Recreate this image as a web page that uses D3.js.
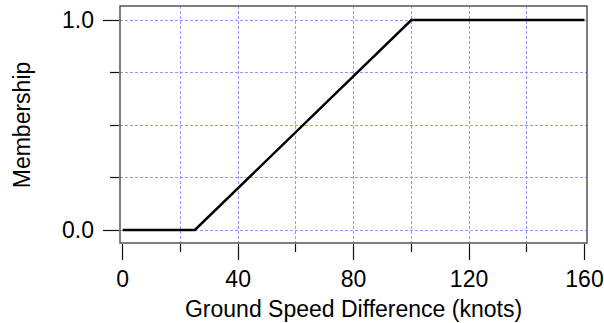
<!DOCTYPE html>
<html>
<head>
<meta charset="utf-8">
<script src="https://cdn.jsdelivr.net/npm/d3@7"></script>
<style>
  body { margin: 0; background: #fff; }
  text { font-family: "Liberation Sans", Arial, sans-serif; fill: #000; }
</style>
</head>
<body>
<div id="chart"></div>
<script>
// membership function points
var speedDiff = [0, 25, 100, 160];
var membership = [0, 0, 1, 1];

var xMajorTicks = [0, 40, 80, 120, 160];
var xMinorTicks = [20, 60, 100, 140];
var yMajorTicks = [0, 1];
var yMinorTicks = [0.25, 0.5, 0.75];
var xGrid = [20, 40, 60, 80, 100, 120, 140];
var yGrid = [0, 0.25, 0.5, 0.75, 1];

var W = 604, H = 323;
var box = {left: 120, right: 587, top: 6, bottom: 243};
var gridColor = "#9595ff";

var svg = d3.select("#chart").append("svg")
    .attr("width", W)
    .attr("height", H);

var x = d3.scaleLinear().domain([0, 160]).range([122.7, 584.5]);
var y = d3.scaleLinear().domain([0, 1]).range([230, 20]);

// snap to pixel centres so dotted lines stay crisp
function px(v) { return Math.floor(v) + 0.5; }

// grid
svg.selectAll("line.vgrid")
  .data(xGrid)
  .enter().append("line")
    .attr("class", "vgrid")
    .attr("x1", function(d) { return px(x(d)); })
    .attr("x2", function(d) { return px(x(d)); })
    .attr("y1", box.top)
    .attr("y2", box.bottom)
    .attr("stroke", gridColor)
    .attr("stroke-width", 1)
    .attr("stroke-dasharray", "3,2");

svg.selectAll("line.hgrid")
  .data(yGrid)
  .enter().append("line")
    .attr("class", "hgrid")
    .attr("x1", box.left)
    .attr("x2", box.right)
    .attr("y1", function(d) { return px(y(d)); })
    .attr("y2", function(d) { return px(y(d)); })
    .attr("stroke", gridColor)
    .attr("stroke-width", 1)
    .attr("stroke-dasharray", "3,2");

// data line
var line = d3.line()
    .x(function(d) { return x(d[0]); })
    .y(function(d) { return y(d[1]); });

svg.append("path")
    .datum(d3.zip(speedDiff, membership))
    .attr("d", line)
    .attr("fill", "none")
    .attr("stroke", "#000")
    .attr("stroke-width", 2.5)
    .attr("stroke-linejoin", "miter");

// frame
svg.append("rect")
    .attr("x", box.left)
    .attr("y", box.top)
    .attr("width", box.right - box.left)
    .attr("height", box.bottom - box.top)
    .attr("fill", "none")
    .attr("stroke", "#555")
    .attr("stroke-width", 1.5);

// x axis ticks
var xAxis = svg.append("g").attr("transform", "translate(0," + box.bottom + ")");
xAxis.selectAll("line.major")
  .data(xMajorTicks)
  .enter().append("line")
    .attr("x1", function(d) { return px(x(d)); })
    .attr("x2", function(d) { return px(x(d)); })
    .attr("y1", 1).attr("y2", 17)
    .attr("stroke", "#111").attr("stroke-width", 1.2);
xAxis.selectAll("line.minor")
  .data(xMinorTicks)
  .enter().append("line")
    .attr("x1", function(d) { return px(x(d)); })
    .attr("x2", function(d) { return px(x(d)); })
    .attr("y1", 1).attr("y2", 9)
    .attr("stroke", "#111").attr("stroke-width", 1.2);
xAxis.selectAll("text")
  .data(xMajorTicks)
  .enter().append("text")
    .attr("x", function(d) { return x(d); })
    .attr("y", 44)
    .attr("text-anchor", "middle")
    .style("font-size", "23px")
    .text(function(d) { return d; });

// y axis ticks
var yAxis = svg.append("g").attr("transform", "translate(" + box.left + ",0)");
yAxis.selectAll("line.major")
  .data(yMajorTicks)
  .enter().append("line")
    .attr("x1", -1).attr("x2", -17)
    .attr("y1", function(d) { return px(y(d)); })
    .attr("y2", function(d) { return px(y(d)); })
    .attr("stroke", "#111").attr("stroke-width", 1.2);
yAxis.selectAll("line.minor")
  .data(yMinorTicks)
  .enter().append("line")
    .attr("x1", -1).attr("x2", -10)
    .attr("y1", function(d) { return px(y(d)); })
    .attr("y2", function(d) { return px(y(d)); })
    .attr("stroke", "#111").attr("stroke-width", 1.2);
yAxis.selectAll("text")
  .data(yMajorTicks)
  .enter().append("text")
    .attr("x", -26)
    .attr("y", function(d) { return y(d) + 8; })
    .attr("text-anchor", "end")
    .style("font-size", "23px")
    .text(function(d) { return d3.format(".1f")(d); });

// axis titles
svg.append("text")
    .attr("x", (box.left + box.right) / 2)
    .attr("y", 317)
    .attr("text-anchor", "middle")
    .style("font-size", "23px")
    .text("Ground Speed Difference (knots)");

svg.append("text")
    .attr("transform", "translate(29.5,125) rotate(-90)")
    .attr("text-anchor", "middle")
    .style("font-size", "23px")
    .text("Membership");
</script>
</body>
</html>
